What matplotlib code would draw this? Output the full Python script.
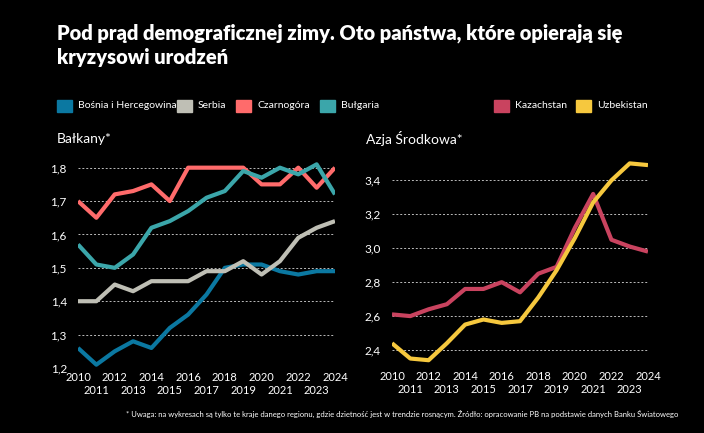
import matplotlib
matplotlib.use("Agg")
import matplotlib.pyplot as plt

years = list(range(2010, 2025))
bosnia = [1.26,1.21,1.25,1.28,1.26,1.32,1.36,1.42,1.50,1.51,1.51,1.49,1.48,1.49,1.49]
serbia = [1.40,1.40,1.45,1.43,1.46,1.46,1.46,1.49,1.49,1.52,1.48,1.52,1.59,1.62,1.64]
montenegro = [1.70,1.65,1.72,1.73,1.75,1.70,1.80,1.80,1.80,1.80,1.75,1.75,1.80,1.74,1.80]
bulgaria = [1.57,1.51,1.50,1.54,1.62,1.64,1.67,1.71,1.73,1.79,1.77,1.80,1.78,1.81,1.72]
kazakhstan = [2.61,2.60,2.64,2.67,2.76,2.76,2.80,2.74,2.85,2.89,3.12,3.32,3.05,3.01,2.98]
uzbekistan = [2.44,2.35,2.34,2.44,2.55,2.58,2.56,2.57,2.71,2.87,3.06,3.27,3.40,3.50,3.49]

left_series = [("Bośnia i Hercegowina", bosnia, "#0b78a1"),
               ("Serbia", serbia, "#bfbfb5"),
               ("Czarnogóra", montenegro, "#ff6b6b"),
               ("Bułgaria", bulgaria, "#3ba6aa")]
right_series = [("Kazachstan", kazakhstan, "#c9435f"),
                ("Uzbekistan", uzbekistan, "#f6c83e")]

plt.rcParams['font.family'] = ['Lato', 'DejaVu Sans']
fig = plt.figure(figsize=(7.04, 4.33), dpi=100, facecolor='black')
W, H = 704, 433

def style(ax, ylim, yticks, fmt):
    ax.set_facecolor('black')
    for s in ax.spines.values():
        s.set_visible(False)
    ax.set_xlim(2010, 2024)
    ax.set_ylim(*ylim)
    ax.set_yticks(yticks)
    ax.set_yticklabels([fmt(v).replace('.', ',') for v in yticks], color='white', fontsize=8.5)
    ax.tick_params(length=0, pad=8)
    ax.grid(axis='y', color='#bbbbbb', linestyle=(0, (2, 2)), linewidth=0.7)
    ax.set_xticks(years)
    ax.set_xticklabels([str(y) if y % 2 == 0 else "\n" + str(y) for y in years],
                       color='white', fontsize=8)
    ax.tick_params(axis='x', pad=3)

axL = fig.add_axes([78/W, 1-368/H, 257/W, 207/H])
for name, vals, c in left_series:
    axL.plot(years, vals, color=c, lw=3, solid_capstyle='butt', zorder=3)
style(axL, (1.2, 1.82), [1.2,1.3,1.4,1.5,1.6,1.7,1.8], lambda v: f"{v:.1f}")

axR = fig.add_axes([392/W, 1-367/H, 256/W, 207/H])
for name, vals, c in right_series:
    axR.plot(years, vals, color=c, lw=3, solid_capstyle='butt', zorder=3)
style(axR, (2.3, 3.52), [2.4,2.6,2.8,3.0,3.2,3.4], lambda v: f"{v:.1f}")
axR.axhline(2.3, color='#bbbbbb', linestyle=(0, (2, 2)), linewidth=0.7)

fig.text(57/W, 1-45/H, "Pod prąd demograficznej zimy. Oto państwa, które opierają się\nkryzysowi urodzeń",
         color='white', fontsize=14.5, fontweight='heavy', va='center', linespacing=1.3)
fig.text(57/W, 1-139/H, "Bałkany*", color='white', fontsize=10, va='center')
fig.text(366/W, 1-139/H, "Azja Środkowa*", color='white', fontsize=10, va='center')

def legend_item(x, label, color):
    fig.patches.append(plt.Rectangle((x/W, 1-112/H), 15/W, 12/H, color=color,
                                     transform=fig.transFigure, figure=fig))
    fig.text((x+21)/W, 1-106/H, label, color='white', fontsize=7.5, va='center')

for x, (name, _, c) in zip([57, 177, 236, 320], left_series):
    legend_item(x, name, c)
for x, (name, _, c) in zip([494, 576], right_series):
    legend_item(x, name, c)

fig.text(678/W, 1-414/H,
         "* Uwaga: na wykresach są tylko te kraje danego regionu, gdzie dzietność jest w trendzie rosnącym. Źródło: opracowanie PB na podstawie danych Banku Światowego",
         color='white', fontsize=5.5, ha='right', va='center')

fig.savefig("out.png", dpi=100, facecolor='black')
